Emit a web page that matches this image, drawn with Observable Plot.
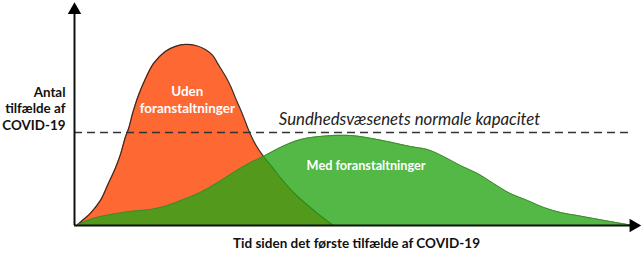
<!DOCTYPE html>
<html>
<head>
<meta charset="utf-8">
<script src="https://cdn.jsdelivr.net/npm/d3@7"></script>
<script src="https://cdn.jsdelivr.net/npm/@observablehq/plot@0.6"></script>
<style>
  html, body { margin: 0; padding: 0; background: #fff; }
  #chart svg { display: block; }
</style>
</head>
<body>
<div id="chart"></div>
<script>
// Time since first case (0–100) and number of cases (0–100)
const udenTime  = [0.4, 1.6, 2.8, 4.6, 6.0, 7.3, 8.2, 9.0, 9.6, 10.3, 11.2, 12.6, 14.0, 16.1, 17.9, 19.7, 21.5, 23.2, 24.5, 25.4, 26.8, 27.7, 28.5, 29.8, 30.9, 32.1, 33.5, 35.1, 36.5, 39.2, 41.8, 44.0, 45.9];
const udenCases = [0, 2.7, 5.5, 11.4, 19.1, 26.4, 32.7, 40.0, 44.1, 50.9, 58.2, 66.8, 73.6, 79.1, 81.4, 82.3, 81.8, 80.0, 77.3, 73.6, 67.7, 63.2, 58.2, 50.5, 43.2, 36.8, 31.4, 26.4, 21.8, 14.1, 8.2, 3.6, 0];

const medTime  = [0.4, 2.3, 4.6, 7.6, 9.9, 13.5, 16.5, 19.3, 22.3, 25.4, 28.2, 31.2, 33.5, 36.5, 40.1, 43.6, 48.9, 53.7, 59.6, 62.6, 65.4, 68.4, 71.5, 74.3, 77.3, 80.3, 83.2, 86.2, 89.2, 92.0, 95.0, 98.0, 99.6];
const medCases = [0, 2.3, 4.1, 5.5, 6.4, 7.3, 9.1, 11.8, 15.0, 19.5, 24.1, 28.6, 31.4, 35.5, 39.1, 40.5, 40.9, 39.1, 35.9, 34.5, 31.4, 27.3, 23.6, 19.1, 14.5, 11.4, 8.2, 5.9, 4.5, 3.2, 1.8, 0.5, 0];

const capacity = 42.3;

const yLabel = "Antal\ntilfælde af\nCOVID-19";
const xLabel = "Tid siden det første tilfælde af COVID-19";
const udenLabel = "Uden\nforanstaltninger";
const medLabel = "Med foranstaltninger";
const capLabel = "Sundhedsvæsenets normale kapacitet";

const uden = udenTime.map((t, i) => ({t, c: udenCases[i]}));
const med = medTime.map((t, i) => ({t, c: medCases[i]}));

const font = "Lato, 'Open Sans', sans-serif";

const chart = Plot.plot({
  width: 643,
  height: 258,
  marginLeft: 74,
  marginRight: 5,
  marginTop: 5,
  marginBottom: 33,
  x: {domain: [0, 100], axis: null},
  y: {domain: [0, 100], axis: null},
  style: {fontFamily: font, background: "#fff"},
  marks: [
    Plot.areaY(uden, {x: "t", y: "c", fill: "#fd6833", curve: "catmull-rom"}),
    Plot.line(uden, {x: "t", y: "c", stroke: "#3b2a22", strokeWidth: 1.2, curve: "catmull-rom"}),
    Plot.areaY(med, {x: "t", y: "c", fill: "#28a617", fillOpacity: 0.8, curve: "catmull-rom"}),
    Plot.line(med, {x: "t", y: "c", stroke: "#3e8a2c", strokeWidth: 1, curve: "catmull-rom"}),
    Plot.ruleY([capacity], {x1: 0, x2: 99, stroke: "#333", strokeWidth: 1.5, strokeDasharray: "8,5"}),
    // axes
    Plot.ruleY([0], {x1: 0, x2: 98.6, stroke: "#111", strokeWidth: 2}),
    Plot.ruleX([0], {y1: 0, y2: 97, stroke: "#111", strokeWidth: 2}),
    Plot.dot([{t: 99.1, c: 0}], {x: "t", y: "c", symbol: "triangle", r: 5, fill: "#000", rotate: 90}),
    Plot.dot([{t: 0, c: 97.9}], {x: "t", y: "c", symbol: "triangle", r: 5, fill: "#000"}),
    // labels
    Plot.text([yLabel], {x: 0, y: 53.5, dx: -9, text: d => d, textAnchor: "end", lineAnchor: "middle", lineHeight: 1.23, fontSize: 13.4, fontWeight: "bold", fill: "#111"}),
    Plot.text([xLabel], {x: 50, y: -8.2, text: d => d, textAnchor: "middle", lineAnchor: "middle", fontSize: 13.5, fontWeight: "bold", fill: "#111"}),
    Plot.text([udenLabel], {x: 20.0, y: 57.5, text: d => d, textAnchor: "middle", lineAnchor: "middle", lineHeight: 1.26, fontSize: 13.4, fontWeight: "bold", fill: "#fff"}),
    Plot.text([medLabel], {x: 51.7, y: 27, text: d => d, textAnchor: "middle", lineAnchor: "middle", fontSize: 12.7, fontWeight: "bold", fill: "#fff"}),
    Plot.text([capLabel], {x: 59.4, y: 48, text: d => d, textAnchor: "middle", lineAnchor: "middle", fontSize: 16.8, fontStyle: "italic", fill: "#222"})
  ]
});
document.getElementById("chart").appendChild(chart);
</script>
</body>
</html>
